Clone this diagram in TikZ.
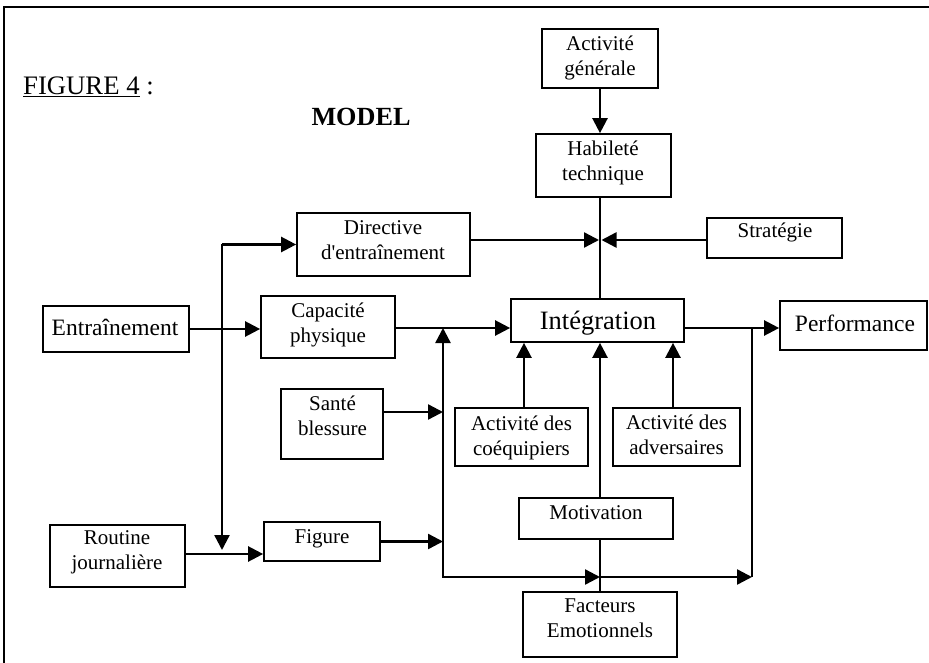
\documentclass[tikz,border=0pt]{standalone}
\usepackage{fontspec}
\setmainfont{Liberation Serif}
\usetikzlibrary{arrows.meta}

\begin{document}
\begin{tikzpicture}[x=1pt,y=-1pt,
  box/.style={draw, line width=1.7pt, rectangle, inner sep=0pt},
  lbl/.style={font=\fontsize{21}{25}\selectfont, align=center, inner sep=0pt},
  tip/.style={Triangle[length=15pt,width=15pt]},
  arr/.style={line width=2.4pt, -{Triangle[length=15pt,width=15pt]}},
  thinline/.style={line width=1.5pt},
  wire/.style={line width=2.4pt},
  frame/.style={line width=1.7pt}]

\useasboundingbox (0,0) rectangle (929,663);

% outer frame (top and left sides)
\draw[frame] (929,7) -- (4,7) -- (4,663);

% title
\node[anchor=base west, inner sep=0pt, font=\fontsize{26.7}{30}\selectfont] (fig) at (23,95) {\underline{FIGURE 4} :};
\node[anchor=base, inner sep=0pt, font=\fontsize{26.2}{30}\selectfont\bfseries] (model) at (361,126) {MODEL};

% boxes
\node[box, minimum width=116, minimum height=59] (actgen) at (600,58.5) {};
\node[box, minimum width=135, minimum height=63] (habil) at (603.5,165.5) {};
\node[box, minimum width=135, minimum height=40] (strat) at (774.5,238) {};
\node[box, minimum width=173, minimum height=63] (direct) at (383.5,244.5) {};
\node[box, minimum width=173, minimum height=43] (integ) at (597.5,320.5) {};
\node[box, minimum width=147, minimum height=49] (perf) at (853.5,325.5) {};
\node[box, minimum width=146, minimum height=46] (entr) at (116,329) {};
\node[box, minimum width=134, minimum height=62] (capa) at (328,327) {};
\node[box, minimum width=102, minimum height=70] (sante) at (332,424) {};
\node[box, minimum width=133, minimum height=58] (coeq) at (521.5,437) {};
\node[box, minimum width=127, minimum height=58] (adv) at (676.5,437) {};
\node[box, minimum width=154, minimum height=41] (motiv) at (596,518.5) {};
\node[box, minimum width=154, minimum height=65] (fact) at (600,624.5) {};
\node[box, minimum width=135, minimum height=62] (routine) at (117.5,556) {};
\node[box, minimum width=116, minimum height=39] (figure) at (322,541.5) {};

% box texts
\node[lbl] (actgen-t) at (600,57.6) {Activité\\générale};
\node[lbl] (habil-t) at (603,162.6) {Habileté\\technique};
\node[lbl] (direct-t) at (383,240) {Directive\\d\textquotesingle entraînement};
\node[lbl, anchor=base] (strat-t) at (775,238) {Stratégie};
\node[lbl, anchor=base, font=\fontsize{26.5}{30}\selectfont] (integ-t) at (598,329) {Intégration};
\node[lbl, anchor=base, font=\fontsize{23.5}{28}\selectfont] (perf-t) at (855,331) {Performance};
\node[lbl, anchor=base, font=\fontsize{23.5}{28}\selectfont] (entr-t) at (115,335) {Entraînement};
\node[lbl] (capa-t) at (328,324.6) {Capacité\\physique};
\node[lbl] (sante-t) at (332.5,415.4) {Santé\\blessure};
\node[lbl] (coeq-t) at (521.5,437.6) {Activité des\\coéquipiers};
\node[lbl] (adv-t) at (676.5,434.4) {Activité des\\adversaires};
\node[lbl, anchor=base] (motiv-t) at (596,519) {Motivation};
\node[lbl] (fact-t) at (600,618) {Facteurs\\Emotionnels};
\node[lbl] (routine-t) at (117,552) {Routine\\journalière};
\node[lbl, anchor=base] (figure-t) at (322,543) {Figure};

% junction points
\coordinate (j1) at (600,240);
\coordinate (b1) at (222,244.5);
\coordinate (b2) at (222,550);
\coordinate (ctop) at (443,328);
\coordinate (cbot) at (443,577);
\coordinate (j2) at (600,577);
\coordinate (c3) at (752,577);
\coordinate (c4) at (752,328);

% top column
\draw[arr] (actgen) -- (actgen |- habil.north);
\draw[thinline] (habil.south -| j1) -- (integ.north -| j1);
\draw[arr] (direct.east |- j1) -- ([xshift=-1]j1);
\draw[arr] (strat.west |- j1) -- ([xshift=1.5]j1);

% left branch
\draw[arr] (entr.east) -- (entr.east -| capa.west);
\draw[arr] (b1) -- (b1 -| direct.west);
\draw[arr] (b1) -- (b2);
\draw[arr] ([yshift=2]routine.east) -- ([yshift=2]routine.east -| figure.west);

% collector line
\draw[{Triangle[length=15pt,width=15pt]}-{Triangle[length=15pt,width=15pt]}, line width=2.4pt, line join=miter]
  (ctop) -- (cbot) -- (j2);
\draw[arr] (capa.east |- ctop) -- (integ.west |- ctop);
\draw[arr] ([yshift=12]sante.east) -- ([yshift=12]sante.east -| cbot);
\draw[arr] (figure.east) -- (figure.east -| cbot);

% inputs from below
\draw[arr] ([xshift=2.5]coeq.north) -- ([xshift=2.5]coeq.north |- integ.south);
\draw[arr] ([xshift=-3.5]adv.north) -- ([xshift=-3.5]adv.north |- integ.south);
\draw[arr] (j2 |- motiv.north) -- (j2 |- integ.south);
\draw[thinline] (j2 |- motiv.south) -- (j2 |- fact.north);

% output
\draw[arr] (integ.east |- c4) -- (perf.west |- c4);
\draw[arr] (j2) -- (c3);
\draw[wire] (c3) -- (c4);

\end{tikzpicture}
\end{document}
